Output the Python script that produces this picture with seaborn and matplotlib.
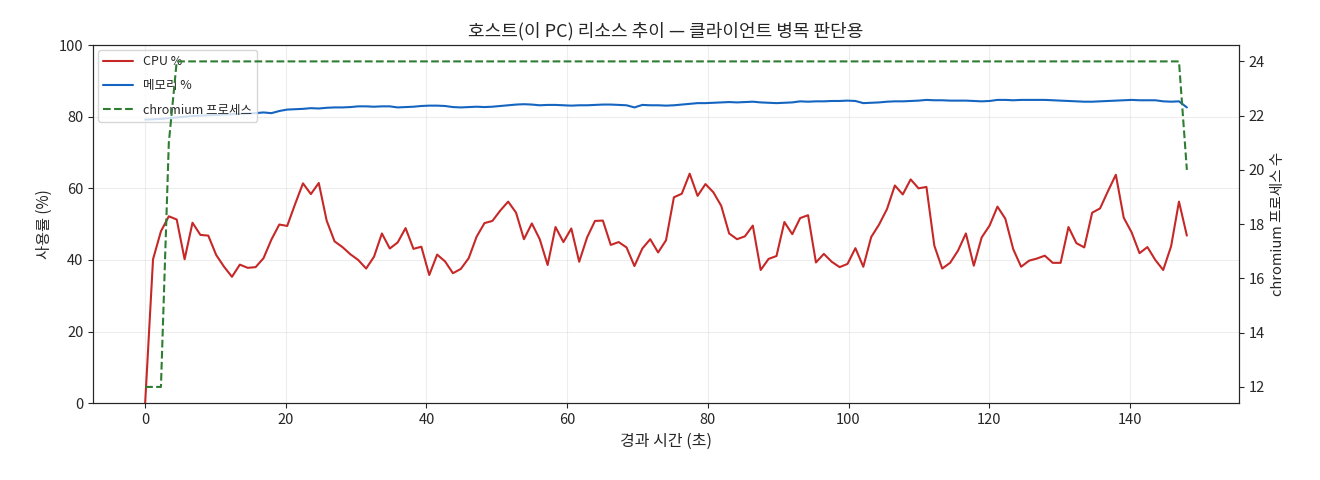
import numpy as np
import pandas as pd
import matplotlib
matplotlib.use("Agg")
import matplotlib.pyplot as plt
import seaborn as sns

# sample interval (s) between measurements
SAMPLE_SEC = 1.122

cpu = [0.0, 40.2, 48.0, 52.2, 51.3, 40.2, 50.4, 47.0, 46.8, 41.4,
       38.1, 35.3, 38.7, 37.8, 38.0, 40.5, 45.7, 49.9, 49.5, 55.6,
       61.4, 58.4, 61.5, 51.0, 45.2, 43.6, 41.6, 40.0, 37.6, 40.9,
       47.4, 43.2, 44.9, 48.9, 43.1, 43.7, 35.8, 41.5, 39.6, 36.3,
       37.5, 40.5, 46.5, 50.3, 50.9, 53.8, 56.3, 53.2, 45.8, 50.2,
       45.8, 38.6, 49.2, 45.0, 48.8, 39.5, 46.3, 50.9, 51.0, 44.2,
       45.0, 43.5, 38.3, 43.2, 45.8, 42.1, 45.5, 57.5, 58.5, 64.1,
       57.9, 61.2, 58.9, 55.1, 47.4, 45.8, 46.6, 49.6, 37.2, 40.3,
       41.1, 50.6, 47.2, 51.7, 52.5, 39.3, 41.7, 39.5, 38.0, 38.9,
       43.3, 38.1, 46.4, 49.9, 54.2, 60.8, 58.3, 62.5, 60.0, 60.4,
       44.0, 37.6, 39.2, 42.6, 47.4, 38.4, 46.3, 49.6, 54.9, 51.5,
       43.0, 38.1, 39.8, 40.4, 41.2, 39.2, 39.2, 49.2, 44.7, 43.5,
       53.2, 54.4, 59.2, 63.8, 51.8, 47.7, 41.9, 43.6, 40.0, 37.2,
       43.8, 56.3, 46.8]

memory = [79.2, 79.3, 79.4, 79.6, 79.8, 80.0, 80.2, 80.3, 80.4, 80.5,
          80.6, 80.7, 80.8, 80.9, 81.0, 81.2, 81.0, 81.6, 82.0, 82.1,
          82.2, 82.4, 82.3, 82.5, 82.6, 82.6, 82.7, 82.9, 82.9, 82.8,
          82.9, 82.9, 82.6, 82.7, 82.8, 83.0, 83.1, 83.1, 83.0, 82.7,
          82.6, 82.7, 82.8, 82.7, 82.8, 83.0, 83.2, 83.4, 83.5, 83.4,
          83.2, 83.3, 83.3, 83.2, 83.1, 83.2, 83.2, 83.3, 83.4, 83.4,
          83.3, 83.2, 82.6, 83.3, 83.2, 83.2, 83.1, 83.2, 83.4, 83.6,
          83.8, 83.8, 83.9, 84.0, 84.1, 84.0, 84.1, 84.2, 84.0, 83.9,
          83.8, 83.9, 84.0, 84.3, 84.2, 84.3, 84.3, 84.4, 84.4, 84.5,
          84.4, 83.8, 83.9, 84.0, 84.2, 84.3, 84.3, 84.4, 84.5, 84.7,
          84.6, 84.6, 84.5, 84.5, 84.5, 84.4, 84.3, 84.4, 84.7, 84.7,
          84.6, 84.7, 84.7, 84.7, 84.7, 84.6, 84.5, 84.4, 84.3, 84.2,
          84.2, 84.3, 84.4, 84.5, 84.6, 84.7, 84.6, 84.6, 84.6, 84.3,
          84.2, 84.3, 82.6]

chromium = [12, 12, 12, 21] + [24] * 128 + [20]

df = pd.DataFrame({
    "t": np.arange(len(cpu)) * SAMPLE_SEC,
    "cpu": cpu,
    "mem": memory,
    "chrome": chromium,
})

sns.set_style("ticks")
plt.rcParams["font.family"] = ["Noto Sans CJK KR", "DejaVu Sans"]
plt.rcParams["axes.unicode_minus"] = False

fig, ax1 = plt.subplots(figsize=(13.2, 4.8), dpi=100)
fig.subplots_adjust(left=0.0705, right=0.9386, top=0.906, bottom=0.16)

sns.lineplot(data=df, x="t", y="cpu", ax=ax1, color="#c62828", lw=1.5, label="CPU %")
sns.lineplot(data=df, x="t", y="mem", ax=ax1, color="#1565c0", lw=1.5, label="메모리 %")
ax1.set_ylim(0, 100)
ax1.set_xlabel("경과 시간 (초)", fontsize=11.5)
ax1.set_ylabel("사용률 (%)", fontsize=11)
ax1.grid(True, alpha=0.35)

ax2 = ax1.twinx()
sns.lineplot(data=df, x="t", y="chrome", ax=ax2, color="#2e7d32", lw=1.5,
             linestyle="--", label="chromium 프로세스")
ax2.set_ylabel("chromium 프로세스 수", fontsize=10.5)

#combined legend on the left axis
h1, l1 = ax1.get_legend_handles_labels()
h2, l2 = ax2.get_legend_handles_labels()
ax2.get_legend().remove()
ax1.legend(h1 + h2, l1 + l2, loc="upper left", fontsize=9,
           labelspacing=0.9, handlelength=2.4, borderaxespad=0.4)

ax1.set_title("호스트(이 PC) 리소스 추이 — 클라이언트 병목 판단용", fontsize=13)
for ax in (ax1, ax2):
    ax.tick_params(labelsize=10.5)

fig.savefig("out.png", dpi=100)
